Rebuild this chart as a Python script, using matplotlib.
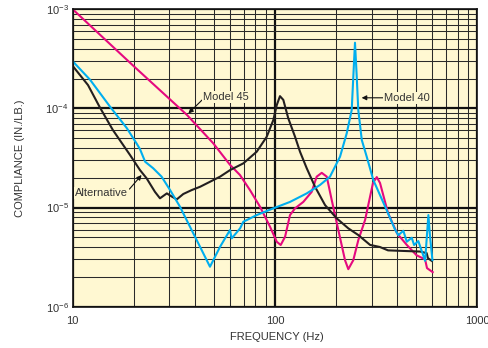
import matplotlib
matplotlib.use("Agg")
import matplotlib.pyplot as plt

plt.rcParams['font.family'] = ['Liberation Sans', 'DejaVu Sans']
plt.rcParams['mathtext.fontset'] = 'custom'
plt.rcParams['mathtext.rm'] = 'Liberation Sans'

# Model 45 (magenta)
f45 = [10, 19.9, 36.7, 49.5, 59.9, 67.1, 75.2, 84.3, 94.5, 102, 106.7,
       112.1, 118.6, 125.6, 138.0, 151.8, 160.7, 170.2, 180.2, 190.7, 205.6,
       221.8, 230.3, 243.8, 258.1, 278.8, 305, 318.4, 330.4, 362, 401, 448,
       501, 552, 564, 602]
c45 = [1e-3, 2.70e-4, 8.6e-5, 4.45e-5, 2.7e-5, 2.13e-5, 1.50e-5,
       1.02e-5, 6.4e-6, 4.52e-6, 4.19e-6, 5.07e-6, 8.4e-6, 9.82e-6, 1.14e-5,
       1.44e-5, 2.05e-5, 2.24e-5, 2.05e-5, 1.19e-5, 5.93e-6, 2.95e-6, 2.39e-6,
       2.95e-6, 4.7e-6, 7.5e-6, 1.77e-5, 2.03e-5, 1.77e-5, 8.8e-6, 5.5e-6,
       4.2e-6, 3.3e-6, 3.0e-6, 2.45e-6, 2.23e-6]

# Alternative (black)
f_alt = [10, 11.9, 13.6, 15.8, 19.2, 21.5, 23.2, 25.5, 27.0, 29.2, 30.9, 32.7,
         35.2, 38.7, 42.6, 47.7, 53.5, 60.0, 69.7, 81.2, 91.0, 98.1, 102,
         105.8, 109.9, 116.3, 125.6, 132.9, 143.5, 157.7, 176.7, 201.8, 230.3,
         258.1, 295, 330, 362, 448, 521, 562, 570, 595]
c_alt = [2.68e-4, 1.72e-4, 1.03e-4, 6.05e-5, 3.39e-5, 2.39e-5, 1.97e-5,
         1.44e-5, 1.24e-5, 1.39e-5, 1.29e-5, 1.21e-5, 1.37e-5, 1.50e-5,
         1.62e-5, 1.82e-5, 2.05e-5, 2.39e-5, 2.79e-5, 3.66e-5, 5.18e-5,
         7.64e-5, 1.08e-4, 1.33e-4, 1.22e-4, 7.94e-5, 5.18e-5, 3.66e-5,
         2.49e-5, 1.62e-5, 1.06e-5, 7.78e-6, 6.17e-6, 5.28e-6, 4.2e-6, 4.0e-6,
         3.7e-6, 3.64e-6, 3.6e-6, 3.47e-6, 3.09e-6, 2.9e-6]

# Model 40 (cyan)
f40 = [10, 12.2, 15.3, 18.5, 20.7, 21.5, 22.8, 25.0, 27.5, 30.3, 33.9, 38.0,
       42.6, 47.7, 53.5, 59.9, 61.1, 67.2, 69.7, 81.2, 98.1, 118.6, 143.5,
       166.9, 187, 209.6, 226.2, 239.4, 243.8, 248.5, 253.5, 258, 268.5, 284,
       306, 356.6, 392, 407, 431, 448, 474, 487, 511, 552, 573, 584, 600]
c40 = [2.99e-4, 1.94e-4, 1.04e-4, 6.34e-5, 4.42e-5, 3.89e-5, 2.9e-5, 2.49e-5,
       2.05e-5, 1.50e-5, 1.02e-5, 6.4e-6, 4.02e-6, 2.53e-6, 4.02e-6, 5.93e-6,
       4.89e-6, 6.17e-6, 7.19e-6, 8.4e-6, 9.82e-6, 1.14e-5, 1.39e-5, 1.69e-5,
       2.05e-5, 3.26e-5, 5.61e-5, 9.64e-5, 2.09e-4, 4.6e-4, 2.09e-4, 9.6e-5,
       4.8e-5, 3.26e-5, 1.90e-5, 9.4e-6, 6.0e-6, 5.27e-6, 5.83e-6, 4.52e-6,
       4.96e-6, 4.19e-6, 4.59e-6, 2.9e-6, 8.4e-6, 5.07e-6, 2.95e-6]

bg = '#fff8d2'
txt = '#333333'

fig = plt.figure(figsize=(4.89, 3.48), dpi=100)
ax = fig.add_axes([0.1487, 0.1187, 0.8274, 0.8546])
ax.set_facecolor(bg)
ax.set_xscale('log')
ax.set_yscale('log')
ax.set_xlim(10, 1000)
ax.set_ylim(1e-6, 1e-3)

# grid
ax.grid(True, which='minor', color='#2a2a2a', lw=0.75)
ax.grid(True, which='major', color='#111111', lw=1.6)
ax.set_axisbelow(True)

ax.plot(f45, c45, color='#e5097f', lw=1.5)
ax.plot(f_alt, c_alt, color='#231f20', lw=1.5)
ax.plot(f40, c40, color='#00aeef', lw=1.5)

ax.set_xticks([10, 100, 1000])
ax.set_xticklabels(['10', '100', '1000'])
ax.set_yticks([1e-6, 1e-5, 1e-4, 1e-3])
ax.set_yticklabels([r'$\mathregular{10^{-6}}$', r'$\mathregular{10^{-5}}$',
                    r'$\mathregular{10^{-4}}$', r'$\mathregular{10^{-3}}$'])
ax.tick_params(which='both', length=0, labelsize=8, labelcolor=txt)
ax.tick_params(axis='x', pad=7)
ax.tick_params(axis='y', pad=3)
for s in ax.spines.values():
    s.set_color('#111111')
    s.set_linewidth(1.2)

box = dict(boxstyle='square,pad=0.1', fc=bg, ec='none')
arr = dict(arrowstyle='-|>', color='#111111', lw=0.8, mutation_scale=7,
           shrinkA=0, shrinkB=0)
ax.annotate('Model 45', xy=(37.3, 8.9e-5), xytext=(44.2, 1.31e-4),
            fontsize=8, color=txt, ha='left', va='center', bbox=box,
            arrowprops=dict(arr, relpos=(0.0, 0.3)))
ax.annotate('Model 40', xy=(268, 1.28e-4), xytext=(346, 1.28e-4),
            fontsize=8, color=txt, ha='left', va='center', bbox=box,
            arrowprops=dict(arr, relpos=(0.0, 0.5)))
ax.annotate('Alternative', xy=(21.9, 2.13e-5), xytext=(10.3, 1.39e-5),
            fontsize=8, color=txt, ha='left', va='center', bbox=box,
            arrowprops=dict(arr, relpos=(1.0, 0.8)))

fig.text(20 / 489, 1 - 158 / 348, 'COMPLIANCE (IN./LB.)', rotation=90,
         ha='center', va='center', fontsize=8, color=txt)
fig.text(276.7 / 489, 1 - 337.5 / 348, 'FREQUENCY (Hz)',
         ha='center', va='center', fontsize=8, color=txt)

fig.savefig('out.png', dpi=100, facecolor='white')
